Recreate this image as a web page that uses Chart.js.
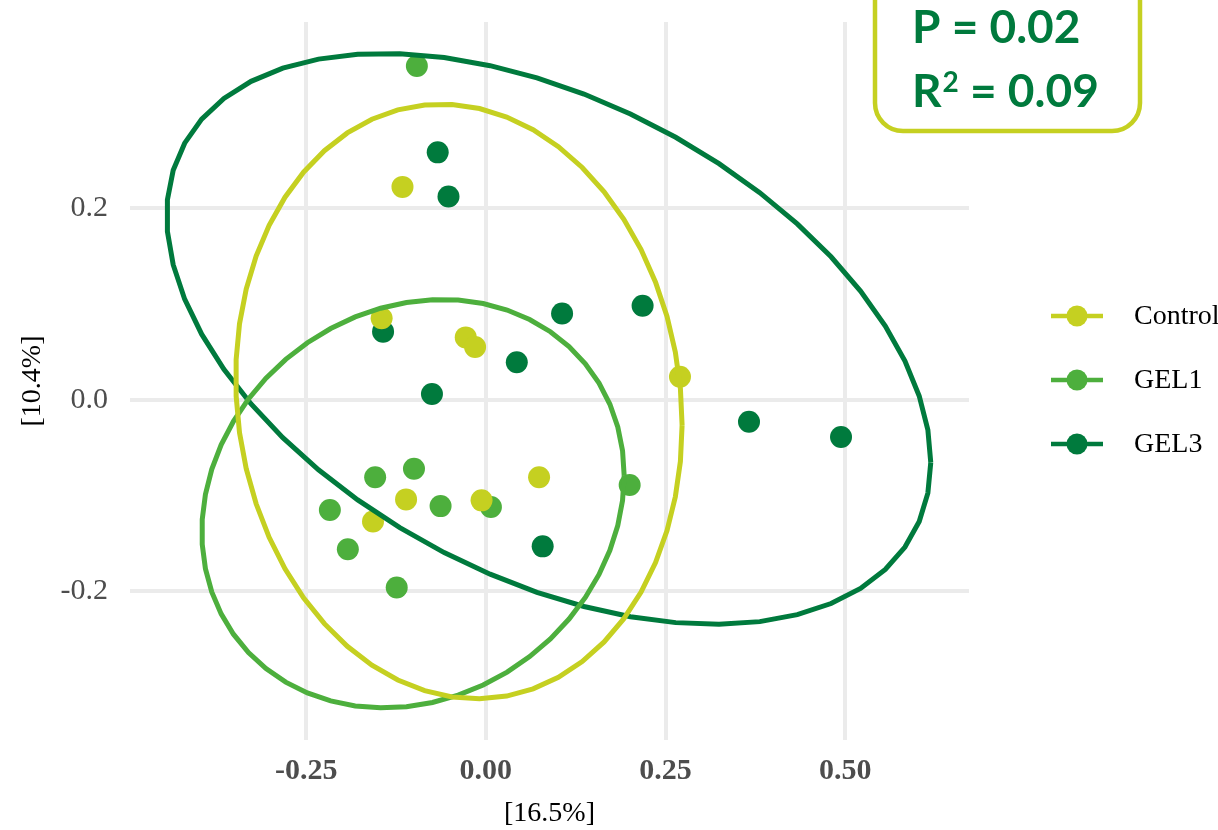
<!DOCTYPE html>
<html>
<head>
<meta charset="utf-8">
<script src="https://cdn.jsdelivr.net/npm/chart.js@4.4.0/dist/chart.umd.min.js"></script>
<style>
    html, body { margin: 0; padding: 0; background: #fff; }
    #wrap { width: 1218px; height: 830px; }
</style>
</head>
<body>
<div id="wrap"><canvas id="pcoa-chart"></canvas></div>
<script>
const groups = ['Control', 'GEL1', 'GEL3'];
const groupColors = ['#C5D021', '#4DAF3D', '#007A3D'];

const controlX = [-0.116, -0.145, -0.028, -0.015, 0.270, 0.074, -0.111, -0.006, -0.157];
const controlY = [0.222, 0.085, 0.065, 0.055, 0.024, -0.081, -0.104, -0.105, -0.127];

const gel1X = [-0.096, -0.154, -0.100, -0.217, -0.063, 0.007, 0.200, -0.192, -0.124];
const gel1Y = [0.348, -0.081, -0.072, -0.115, -0.111, -0.112, -0.089, -0.156, -0.196];

const gel3X = [-0.067, -0.052, -0.143, -0.075, 0.043, 0.106, 0.218, 0.366, 0.494, 0.079];
const gel3Y = [0.258, 0.212, 0.071, 0.006, 0.039, 0.090, 0.098, -0.023, -0.039, -0.153];

const xTicks = [-0.25, 0, 0.25, 0.5];
const yTicks = [-0.2, 0, 0.2];

const xTitle = '[16.5%]';
const yTitle = '[10.4%]';
const pLabel = 'P = 0.02';
const r2Label = ['R', '2', ' = 0.09'];

const sum = arr => arr.reduce((a, b) => a + b, 0);

// t-distribution ellipse, same recipe as ggplot2::stat_ellipse (MASS::cov.trob)
function ellipseFor(xs, ys, level = 0.95, segments = 51) {
    const n = xs.length;
    const nu = 5;
    let w = xs.map(() => 1);
    let loc = [sum(xs) / n, sum(ys) / n];
    let dx = [];
    let dy = [];
    for (let iter = 0; iter < 25; iter++) {
        const w0 = w.slice();
        dx = xs.map(x => x - loc[0]);
        dy = ys.map(y => y - loc[1]);
        const sw = sum(w);
        let a = 0, b = 0, c = 0;
        for (let i = 0; i < n; i++) {
            const f = w[i] / sw;
            a += f * dx[i] * dx[i];
            b += f * dx[i] * dy[i];
            c += f * dy[i] * dy[i];
        }
        const det = a * c - b * b;
        w = dx.map((u, i) => {
            const q = (c * u * u - 2 * b * u * dy[i] + a * dy[i] * dy[i]) / det;
            return (nu + 2) / (nu + q);
        });
        const sw2 = sum(w);
        loc = [sum(xs.map((x, i) => w[i] * x)) / sw2, sum(ys.map((y, i) => w[i] * y)) / sw2];
        if (w.every((v, i) => Math.abs(v - w0[i]) < 0.01)) break;
    }
    let s11 = 0, s12 = 0, s22 = 0;
    for (let i = 0; i < n; i++) {
        s11 += w[i] * dx[i] * dx[i];
        s12 += w[i] * dx[i] * dy[i];
        s22 += w[i] * dy[i] * dy[i];
    }
    s11 /= n; s12 /= n; s22 /= n;
    const dfd = n - 1;
    const fq = (dfd / 2) * (Math.pow(1 - level, -2 / dfd) - 1);
    const radius = Math.sqrt(2 * fq);
    const r11 = Math.sqrt(s11);
    const r12 = s12 / r11;
    const r22 = Math.sqrt(s22 - r12 * r12);
    const pts = [];
    for (let k = 0; k <= segments; k++) {
        const t = 2 * Math.PI * k / segments;
        const c = Math.cos(t), s = Math.sin(t);
        pts.push({ x: loc[0] + radius * c * r11, y: loc[1] + radius * (c * r12 + s * r22) });
    }
    return pts;
}

const toPoints = (xs, ys) => xs.map((x, i) => ({ x, y: ys[i] }));
const groupData = [[controlX, controlY], [gel1X, gel1Y], [gel3X, gel3Y]];

const ellipseSets = groupData.map(([xs, ys], i) => ({
    label: groups[i] + ' ellipse',
    data: ellipseFor(xs, ys),
    showLine: true,
    borderColor: groupColors[i],
    borderWidth: 5,
    pointRadius: 0,
    tension: 0,
    fill: false
}));

const pointSets = groupData.map(([xs, ys], i) => ({
    label: groups[i],
    data: toPoints(xs, ys),
    backgroundColor: groupColors[i],
    borderWidth: 0,
    pointRadius: 11,
    pointHoverRadius: 11
}));

// ggplot-like legend at the right + annotation box
const extrasPlugin = {
    id: 'extras',
    afterDraw(chart) {
        const ctx = chart.ctx;
        ctx.save();
        const legendY = [316, 380, 444];
        groups.forEach((g, i) => {
            ctx.strokeStyle = groupColors[i];
            ctx.lineWidth = 4.5;
            ctx.beginPath();
            ctx.moveTo(1051, legendY[i]);
            ctx.lineTo(1103, legendY[i]);
            ctx.stroke();
            ctx.fillStyle = groupColors[i];
            ctx.beginPath();
            ctx.arc(1077, legendY[i], 10.5, 0, Math.PI * 2);
            ctx.fill();
            ctx.fillStyle = '#000';
            ctx.font = '28px "Liberation Serif"';
            ctx.textBaseline = 'middle';
            ctx.textAlign = 'left';
            ctx.fillText(g, 1134, legendY[i] + 1);
        });

        // stats box
        ctx.fillStyle = '#fff';
        ctx.strokeStyle = '#C5D021';
        ctx.lineWidth = 4.5;
        ctx.beginPath();
        ctx.roundRect(875, -30, 265, 161, 28);
        ctx.fill();
        ctx.stroke();

        ctx.fillStyle = '#007A3D';
        ctx.textBaseline = 'alphabetic';
        ctx.font = 'bold 46px Lato';
        ctx.fillText(pLabel, 912, 43);
        let x = 912;
        ctx.fillText(r2Label[0], x, 107);
        x += ctx.measureText(r2Label[0]).width + 1;
        ctx.font = 'bold 28px Lato';
        ctx.fillText(r2Label[1], x, 92);
        x += ctx.measureText(r2Label[1]).width;
        ctx.font = 'bold 46px Lato';
        ctx.fillText(r2Label[2], x, 107);
        ctx.restore();
    }
};

const chartEl = document.getElementById('pcoa-chart');

const pcoaChart = new Chart(chartEl, { // eslint-disable-line
    type: 'scatter',
    data: {
        datasets: [...ellipseSets, ...pointSets]
    },
    options: {
        responsive: true,
        maintainAspectRatio: false,
        animation: false,
        layout: {
            padding: { left: 0, top: 22, right: 249, bottom: 0 }
        },
        plugins: {
            legend: { display: false },
            tooltip: { enabled: false }
        },
        scales: {
            x: {
                type: 'linear',
                min: -0.495,
                max: 0.672,
                afterBuildTicks: (scale) => { scale.ticks = xTicks.map(v => ({ value: v })); },
                afterFit: (scale) => {
                    scale.height = 90;
                    scale.paddingLeft = 0;
                    scale.paddingRight = 0;
                },
                grid: { color: '#EBEBEB', lineWidth: 4, drawTicks: false },
                border: { display: false },
                ticks: {
                    padding: 13,
                    color: '#4D4D4D',
                    font: { family: 'Liberation Serif', size: 30, weight: 'bold' },
                    callback: v => v.toFixed(2)
                },
                title: {
                    display: true,
                    text: xTitle,
                    color: '#000',
                    padding: { top: 0, bottom: 0 },
                    font: { family: 'Liberation Serif', size: 28 }
                }
            },
            y: {
                type: 'linear',
                min: -0.355,
                max: 0.394,
                afterBuildTicks: (scale) => { scale.ticks = yTicks.map(v => ({ value: v })); },
                afterFit: (scale) => {
                    scale.width = 130;
                    scale.paddingTop = 0;
                    scale.paddingBottom = 0;
                },
                grid: { color: '#EBEBEB', lineWidth: 4, drawTicks: false },
                border: { display: false },
                ticks: {
                    padding: 22,
                    color: '#4D4D4D',
                    font: { family: 'Liberation Serif', size: 30 },
                    callback: v => v.toFixed(1)
                },
                title: {
                    display: true,
                    text: yTitle,
                    color: '#000',
                    padding: { top: 16, bottom: 0 },
                    font: { family: 'Liberation Serif', size: 28 }
                }
            }
        }
    },
    plugins: [extrasPlugin]
});
</script>
</body>
</html>
